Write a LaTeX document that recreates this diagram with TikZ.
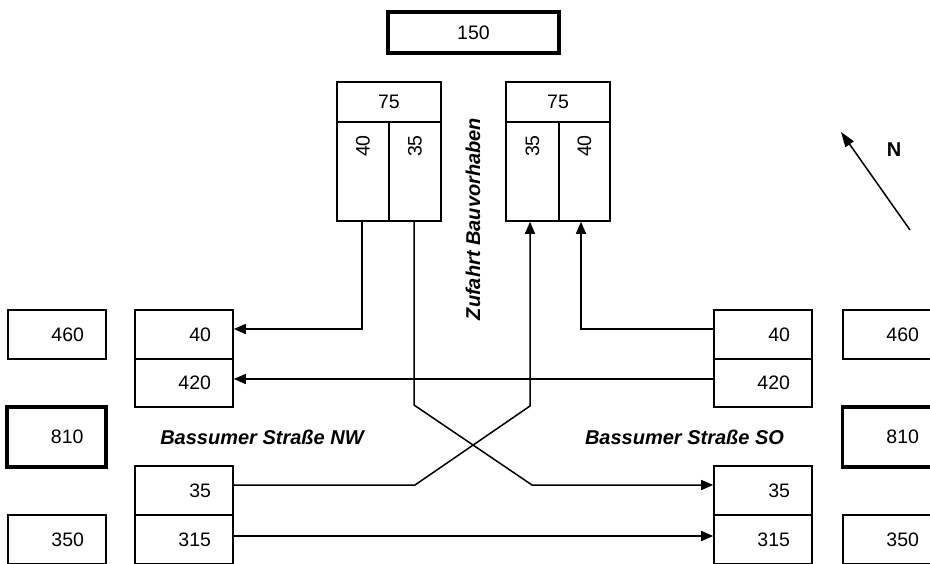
\documentclass[tikz,border=0pt]{standalone}
\usepackage{fontspec}
\setmainfont{Liberation Sans}
\usetikzlibrary{arrows.meta}
\begin{document}
\begin{tikzpicture}[x=1pt,y=-1pt,
  num/.style={inner sep=0pt, font=\fontsize{19.5}{22}\selectfont},
  cell/.style={draw, line width=1.6pt, inner sep=0pt, font=\fontsize{19.5}{22}\selectfont},
  rcell/.style={cell, text width=54pt, align=right},
  thickcell/.style={cell, line width=3.6pt},
  lab/.style={inner sep=0pt, font=\fontsize{20}{24}\selectfont\bfseries\itshape},
  conn/.style={line width=1.5pt},
  arr/.style={conn, -{Triangle[length=12pt,width=10pt]}}]
\useasboundingbox (0,0) rectangle (930,563);
\fill[white] (0,0) rectangle (930,563);
\clip (0,0) rectangle (930,563);

% top
\node[thickcell, minimum width=171, minimum height=41] (top) at (473.5,32.5) {150};

% upper left
\node[cell, minimum width=104, minimum height=40] (lu75) at (389,102) {75};
\node[cell, minimum width=52, minimum height=99] (lu40) at (363,171.5) {};
\node[cell, minimum width=52, minimum height=99] (lu35) at (415,171.5) {};
\node[num, rotate=90] (lu40t) at (363,146) {40};
\node[num, rotate=90] (lu35t) at (415,146) {35};

% upper right
\node[cell, minimum width=104, minimum height=40] (ru75) at (558,102) {75};
\node[cell, minimum width=53, minimum height=99] (ru35) at (532.5,171.5) {};
\node[cell, minimum width=51, minimum height=99] (ru40) at (584.5,171.5) {};
\node[num, rotate=90] (ru35t) at (532.5,146) {35};
\node[num, rotate=90] (ru40t) at (584.5,146) {40};

% left stack
\node[rcell, minimum width=98, minimum height=49] (l40) at (184,334.5) {40};
\node[rcell, minimum width=98, minimum height=48] (l420) at (184,383) {420};
\node[rcell, minimum width=98, minimum height=49] (l35) at (184,490.5) {35};
\node[rcell, minimum width=98, minimum height=49] (l315) at (184,539.5) {315};

% left side
\node[rcell, minimum width=98, minimum height=49] (s460) at (57,334.5) {460};
\node[thickcell, text width=54pt, align=right, minimum width=99, minimum height=60] (s810) at (56.5,437) {810};
\node[rcell, minimum width=98, minimum height=49] (s350) at (57,539.5) {350};

% right stack
\node[rcell, minimum width=98, minimum height=49] (r40) at (763,334.5) {40};
\node[rcell, minimum width=98, minimum height=48] (r420) at (763,383) {420};
\node[rcell, minimum width=98, minimum height=49] (r35) at (763,490.5) {35};
\node[rcell, minimum width=98, minimum height=49] (r315) at (763,539.5) {315};

% right side
\node[rcell, minimum width=98, minimum height=49] (t460) at (892,334.5) {460};
\node[thickcell, text width=54pt, align=right, minimum width=99, minimum height=60] (t810) at (892,437) {810};
\node[rcell, minimum width=98, minimum height=49] (t350) at (892,539.5) {350};

% labels
\node[lab] (nw) at (262,437) {Bassumer Straße NW};
\node[lab] (so) at (684.5,437) {Bassumer Straße SO};
\node[lab, rotate=90] (zb) at (473,219) {Zufahrt Bauvorhaben};

% connectors
\coordinate (a1) at (362,329);
\draw[arr] (a1 |- lu40.south) -- (a1) -- (l40.east |- a1);

\coordinate (c1) at (414,405);
\coordinate (c2) at (532,485);
\draw[arr] (c1 |- lu35.south) -- (c1) -- (c2) -- (r35.west |- c2);

\coordinate (d1) at (415,485);
\coordinate (d2) at (530,406);
\draw[arr] (l35.east |- d1) -- (d1) -- (d2) -- (d2 |- ru35.south);

\coordinate (e1) at (581,329);
\draw[arr] (r40.west |- e1) -- (e1) -- (e1 |- ru40.south);

\coordinate (f1) at (500,379);
\draw[arr] (r420.west |- f1) -- (l420.east |- f1);

\coordinate (g1) at (500,536);
\draw[arr] (l315.east |- g1) -- (r315.west |- g1);

% north arrow
\coordinate (n1) at (910,230);
\coordinate (n2) at (841,132);
\draw[line width=1.5pt, -{Triangle[length=15pt,width=10pt]}] (n1) -- (n2);
\node[inner sep=0pt, font=\fontsize{20}{24}\selectfont\bfseries] (N) at (894,150) {N};
\end{tikzpicture}
\end{document}
